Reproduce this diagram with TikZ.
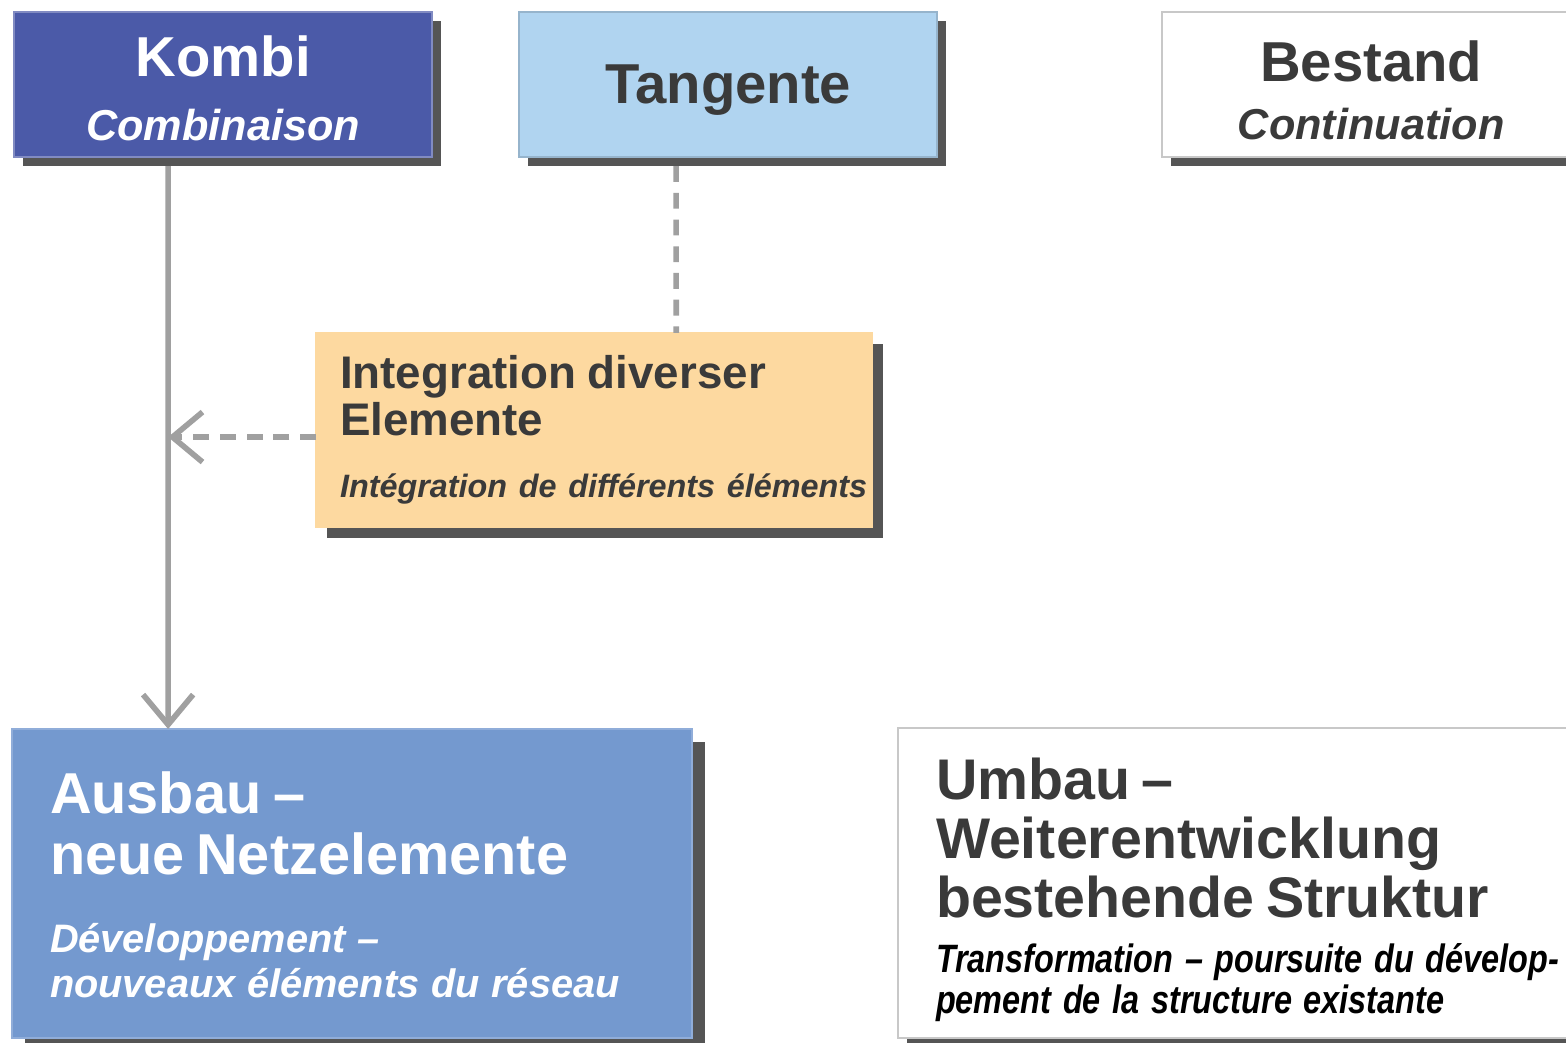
\documentclass[tikz,border=0pt]{standalone}
\usepackage{fontspec}
\setmainfont{Liberation Sans}
\newfontfamily\narrowsans[FakeStretch=0.82]{Liberation Sans}
\usetikzlibrary{arrows.meta, shadows}

\definecolor{kombiblue}{RGB}{75,90,168}
\definecolor{tangblue}{RGB}{176,212,240}
\definecolor{integorange}{RGB}{253,217,160}
\definecolor{ausbaublue}{RGB}{116,153,207}
\definecolor{shadowgray}{RGB}{85,85,85}
\definecolor{textgray}{RGB}{58,58,58}
\definecolor{linkgray}{RGB}{160,160,160}
\definecolor{framegray}{RGB}{200,200,200}

\begin{document}
\begin{tikzpicture}[x=0.01cm, y=-0.01cm,
	panel/.style 2 args={rectangle, anchor=north west, inner sep=0pt, outer sep=0pt,
		fill=#1, draw=#2, line width=0.6pt, text=textgray},
	shadowed/.style={drop shadow={shadow xshift=#1, shadow yshift=-#1, fill=shadowgray, opacity=1}},
	link/.style={color=linkgray, line width=1.6pt},
	dashlink/.style={dash pattern=on 4.5pt off 3.1pt},
	barbed/.style={-{Straight Barb[length=0.3cm, width=0.5cm]}}]
\useasboundingbox (0,0) rectangle (1566,1043);

	% top row
	\node[panel={kombiblue}{kombiblue!70!white}, shadowed=0.09cm, minimum width=4.18cm, minimum height=1.45cm,
		text width=4cm, align=center, text height=0.49cm, text=white] (kombi) at (14,12)
		{{\fontsize{16}{19}\selectfont\bfseries Kombi\par}
		 {\fontsize{12.3}{18.2}\selectfont\bfseries\itshape Combinaison\par}};
	\node[panel={tangblue}{tangblue!85!black}, shadowed=0.09cm, minimum width=4.18cm, minimum height=1.45cm,
		text width=4cm, align=center, text depth=0pt] (tangente) at (519,12)
		{\fontsize{16}{19}\selectfont\bfseries Tangente};
	\node[panel={white}{framegray}, shadowed=0.09cm, minimum width=4.18cm, minimum height=1.45cm,
		text width=4cm, align=center, text height=0.52cm] (bestand) at (1162,12)
		{{\fontsize{16}{19}\selectfont\bfseries Bestand\par}
		 {\fontsize{12.3}{16.5}\selectfont\bfseries\itshape Continuation\par}};

	% middle
	\node[panel={integorange}{integorange}, shadowed=0.11cm, minimum width=5.56cm, minimum height=1.94cm,
		inner xsep=0.24cm, text width=5.08cm, align=left] (integ) at (316,333)
		{{\fontsize{13}{13.4}\selectfont\bfseries Integration diverser\\Elemente\par}
		 {\fontsize{9.2}{17.6}\selectfont\bfseries\itshape \mbox{Intégration de différents éléments}\par}};

	% bottom row
	\node[panel={ausbaublue}{ausbaublue!80!white}, shadowed=0.13cm, minimum width=6.8cm, minimum height=3.09cm,
		inner xsep=0.38cm, text width=6.04cm, align=left, text height=0.44cm, text=white] (ausbau) at (12,729)
		{{\fontsize{16.4}{17.4}\selectfont\bfseries Ausbau –\\neue Netzelemente\par}
		 \vspace{9.2pt}
		 {\fontsize{11.3}{12.8}\selectfont\bfseries\itshape Développement –\\nouveaux éléments du réseau\par}};
	\node[panel={white}{framegray}, shadowed=0.09cm, minimum width=7.16cm, minimum height=3.1cm,
		inner xsep=0.38cm, text width=6.4cm, align=left, text height=0.55cm] (umbau) at (898,728)
		{{\fontsize{16.3}{16.8}\selectfont\bfseries Umbau –\\Weiterentwicklung\\bestehende Struktur\par}
		 \vspace{3.7pt}
		 {\narrowsans\fontsize{11.25}{11.7}\selectfont\bfseries\itshape\color{black}
		  \mbox{Transformation – poursuite du dévelop-}\\\mbox{pement de la structure existante}\par}};

	% connectors
	\coordinate (trunk) at ([xshift=1.54cm, yshift=-0.09cm]kombi.south west);
	\draw[link, barbed] (trunk) -- ([xshift=1.56cm]ausbau.north west);
	\draw[link, dashlink] ([xshift=1.57cm, yshift=-0.09cm]tangente.south west) -- ([xshift=3.6cm]integ.north west);
	\draw[link, dashlink, barbed] ([yshift=-0.07cm]integ.west) -- ([yshift=-0.07cm]integ.west -| trunk);
\end{tikzpicture}
\end{document}
